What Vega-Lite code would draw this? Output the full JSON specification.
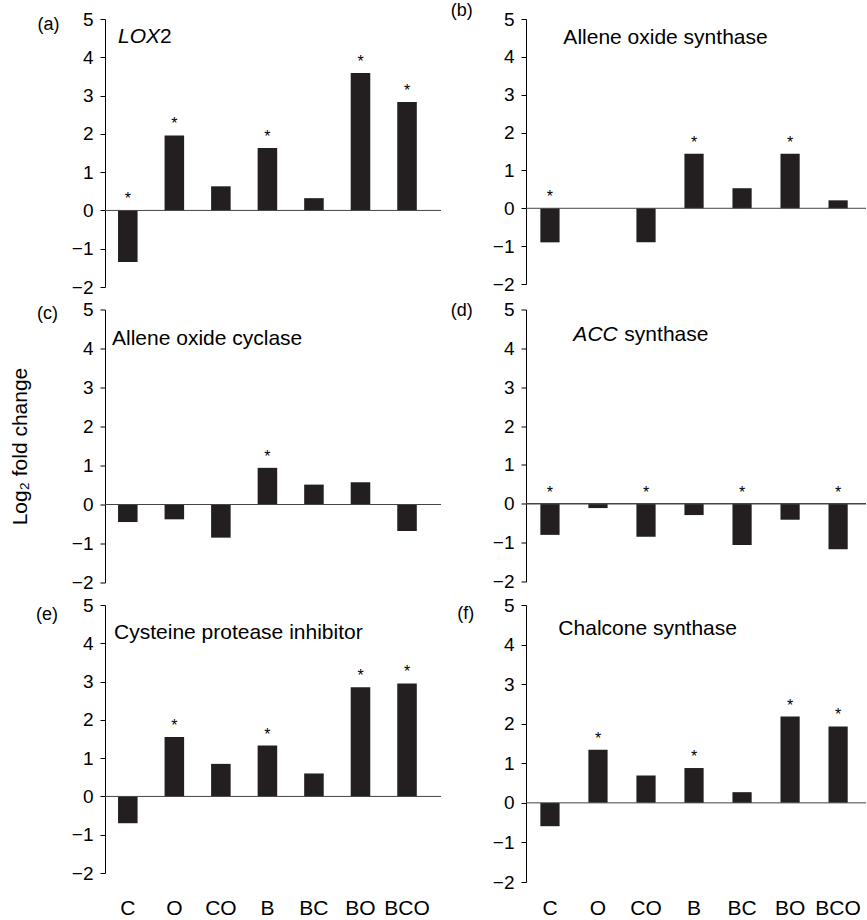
{
  "$schema": "https://vega.github.io/schema/vega-lite/v6.json",
  "padding": {"left": 9, "top": 2, "right": 0, "bottom": 0},
  "background": "white",
  "datasets": {
    "d": [
      {"panel": "a", "group": "C", "value": -1.35, "sig": true},
      {"panel": "a", "group": "O", "value": 1.96, "sig": true},
      {"panel": "a", "group": "CO", "value": 0.63, "sig": false},
      {"panel": "a", "group": "B", "value": 1.63, "sig": true},
      {"panel": "a", "group": "BC", "value": 0.32, "sig": false},
      {"panel": "a", "group": "BO", "value": 3.59, "sig": true},
      {"panel": "a", "group": "BCO", "value": 2.83, "sig": true},
      {"panel": "b", "group": "C", "value": -0.9, "sig": true},
      {"panel": "b", "group": "O", "value": 0, "sig": false},
      {"panel": "b", "group": "CO", "value": -0.9, "sig": false},
      {"panel": "b", "group": "B", "value": 1.44, "sig": true},
      {"panel": "b", "group": "BC", "value": 0.53, "sig": false},
      {"panel": "b", "group": "BO", "value": 1.44, "sig": true},
      {"panel": "b", "group": "BCO", "value": 0.21, "sig": false},
      {"panel": "c", "group": "C", "value": -0.45, "sig": false},
      {"panel": "c", "group": "O", "value": -0.38, "sig": false},
      {"panel": "c", "group": "CO", "value": -0.85, "sig": false},
      {"panel": "c", "group": "B", "value": 0.94, "sig": true},
      {"panel": "c", "group": "BC", "value": 0.51, "sig": false},
      {"panel": "c", "group": "BO", "value": 0.57, "sig": false},
      {"panel": "c", "group": "BCO", "value": -0.68, "sig": false},
      {"panel": "d", "group": "C", "value": -0.8, "sig": true},
      {"panel": "d", "group": "O", "value": -0.11, "sig": false},
      {"panel": "d", "group": "CO", "value": -0.85, "sig": true},
      {"panel": "d", "group": "B", "value": -0.29, "sig": false},
      {"panel": "d", "group": "BC", "value": -1.06, "sig": true},
      {"panel": "d", "group": "BO", "value": -0.41, "sig": false},
      {"panel": "d", "group": "BCO", "value": -1.17, "sig": true},
      {"panel": "e", "group": "C", "value": -0.7, "sig": false},
      {"panel": "e", "group": "O", "value": 1.55, "sig": true},
      {"panel": "e", "group": "CO", "value": 0.85, "sig": false},
      {"panel": "e", "group": "B", "value": 1.33, "sig": true},
      {"panel": "e", "group": "BC", "value": 0.6, "sig": false},
      {"panel": "e", "group": "BO", "value": 2.85, "sig": true},
      {"panel": "e", "group": "BCO", "value": 2.95, "sig": true},
      {"panel": "f", "group": "C", "value": -0.59, "sig": false},
      {"panel": "f", "group": "O", "value": 1.34, "sig": true},
      {"panel": "f", "group": "CO", "value": 0.69, "sig": false},
      {"panel": "f", "group": "B", "value": 0.88, "sig": true},
      {"panel": "f", "group": "BC", "value": 0.27, "sig": false},
      {"panel": "f", "group": "BO", "value": 2.18, "sig": true},
      {"panel": "f", "group": "BCO", "value": 1.93, "sig": true}
    ]
  },
  "columns": 2,
  "bounds": "flush",
  "spacing": {"row": 22.5, "column": 85},
  "concat": [
    {
      "width": 336, "height": 268,
      "layer": [
        {"data": {"name": "d"}, "transform": [{"filter": "datum.panel === 'a'"}],
         "mark": {"type": "bar", "color": "#231f20"},
         "encoding": {
           "x": {"field": "group", "type": "nominal", "scale": {"domain": ["C","O","CO","B","BC","BO","BCO"], "paddingInner": 0.58, "paddingOuter": 0.4, "align": 0.35}, "axis": null},
           "y": {"field": "value", "type": "quantitative", "scale": {"domain": [-2, 5], "nice": false, "zero": false}, "axis": {"values": [-2,-1,0,1,2,3,4,5], "title": null}}}},
        {"data": {"values": [{}]},
         "mark": {"type": "rule", "color": "#444", "strokeWidth": 1},
         "encoding": {"y": {"datum": 0, "type": "quantitative", "scale": {"domain": [-2, 5], "nice": false, "zero": false}, "axis": {"values": [-2,-1,0,1,2,3,4,5], "title": null}}}},
        {"data": {"name": "d"}, "transform": [{"filter": "datum.panel === 'a' && datum.sig && datum.value > 0"}],
         "mark": {"type": "text", "text": "*", "fontSize": 16, "baseline": "alphabetic", "dy": -6},
         "encoding": {
           "x": {"field": "group", "type": "nominal", "scale": {"domain": ["C","O","CO","B","BC","BO","BCO"], "paddingInner": 0.58, "paddingOuter": 0.4, "align": 0.35}, "axis": null},
           "y": {"field": "value", "type": "quantitative", "scale": {"domain": [-2, 5], "nice": false, "zero": false}, "axis": {"values": [-2,-1,0,1,2,3,4,5], "title": null}}}},
        {"data": {"name": "d"}, "transform": [{"filter": "datum.panel === 'a' && datum.sig && datum.value <= 0"}],
         "mark": {"type": "text", "text": "*", "fontSize": 16, "baseline": "alphabetic", "dy": -6},
         "encoding": {
           "x": {"field": "group", "type": "nominal", "scale": {"domain": ["C","O","CO","B","BC","BO","BCO"], "paddingInner": 0.58, "paddingOuter": 0.4, "align": 0.35}, "axis": null},
           "y": {"datum": 0, "type": "quantitative", "scale": {"domain": [-2, 5], "nice": false, "zero": false}, "axis": {"values": [-2,-1,0,1,2,3,4,5], "title": null}}}},
        {"data": {"values": [{}]},
         "mark": {"type": "text", "text": "LOX", "fontStyle": "italic", "fontSize": 21, "align": "left", "baseline": "middle", "dx": 0},
         "encoding": {
           "x": {"datum": "C", "type": "nominal", "bandPosition": 0, "scale": {"domain": ["C","O","CO","B","BC","BO","BCO"], "paddingInner": 0.58, "paddingOuter": 0.4, "align": 0.35}, "axis": null},
           "y": {"datum": 4.53, "type": "quantitative", "scale": {"domain": [-2, 5], "nice": false, "zero": false}, "axis": {"values": [-2,-1,0,1,2,3,4,5], "title": null}}}},
        {"data": {"values": [{}]},
         "mark": {"type": "text", "text": "2", "fontSize": 21, "align": "left", "baseline": "middle", "dx": 42},
         "encoding": {
           "x": {"datum": "C", "type": "nominal", "bandPosition": 0, "scale": {"domain": ["C","O","CO","B","BC","BO","BCO"], "paddingInner": 0.58, "paddingOuter": 0.4, "align": 0.35}, "axis": null},
           "y": {"datum": 4.53, "type": "quantitative", "scale": {"domain": [-2, 5], "nice": false, "zero": false}, "axis": {"values": [-2,-1,0,1,2,3,4,5], "title": null}}}},
        {"data": {"values": [{}]},
         "mark": {"type": "text", "text": "(a)", "fontSize": 18, "align": "left", "baseline": "middle", "dx": -80.5, "dy": 6},
         "encoding": {
           "x": {"datum": "C", "type": "nominal", "bandPosition": 0, "scale": {"domain": ["C","O","CO","B","BC","BO","BCO"], "paddingInner": 0.58, "paddingOuter": 0.4, "align": 0.35}, "axis": null},
           "y": {"datum": 5, "type": "quantitative", "scale": {"domain": [-2, 5], "nice": false, "zero": false}, "axis": {"values": [-2,-1,0,1,2,3,4,5], "title": null}}}}
      ]
    },
    {
      "width": 340, "height": 265,
      "layer": [
        {"data": {"name": "d"}, "transform": [{"filter": "datum.panel === 'b'"}],
         "mark": {"type": "bar", "color": "#231f20"},
         "encoding": {
           "x": {"field": "group", "type": "nominal", "scale": {"domain": ["C","O","CO","B","BC","BO","BCO"], "paddingInner": 0.6, "paddingOuter": 0.34, "align": 0.44}, "axis": null},
           "y": {"field": "value", "type": "quantitative", "scale": {"domain": [-2, 5], "nice": false, "zero": false}, "axis": {"values": [-2,-1,0,1,2,3,4,5], "title": null}}}},
        {"data": {"values": [{}]},
         "mark": {"type": "rule", "color": "#444", "strokeWidth": 1},
         "encoding": {"y": {"datum": 0, "type": "quantitative", "scale": {"domain": [-2, 5], "nice": false, "zero": false}, "axis": {"values": [-2,-1,0,1,2,3,4,5], "title": null}}}},
        {"data": {"name": "d"}, "transform": [{"filter": "datum.panel === 'b' && datum.sig && datum.value > 0"}],
         "mark": {"type": "text", "text": "*", "fontSize": 16, "baseline": "alphabetic", "dy": -6},
         "encoding": {
           "x": {"field": "group", "type": "nominal", "scale": {"domain": ["C","O","CO","B","BC","BO","BCO"], "paddingInner": 0.6, "paddingOuter": 0.34, "align": 0.44}, "axis": null},
           "y": {"field": "value", "type": "quantitative", "scale": {"domain": [-2, 5], "nice": false, "zero": false}, "axis": {"values": [-2,-1,0,1,2,3,4,5], "title": null}}}},
        {"data": {"name": "d"}, "transform": [{"filter": "datum.panel === 'b' && datum.sig && datum.value <= 0"}],
         "mark": {"type": "text", "text": "*", "fontSize": 16, "baseline": "alphabetic", "dy": -6},
         "encoding": {
           "x": {"field": "group", "type": "nominal", "scale": {"domain": ["C","O","CO","B","BC","BO","BCO"], "paddingInner": 0.6, "paddingOuter": 0.34, "align": 0.44}, "axis": null},
           "y": {"datum": 0, "type": "quantitative", "scale": {"domain": [-2, 5], "nice": false, "zero": false}, "axis": {"values": [-2,-1,0,1,2,3,4,5], "title": null}}}},
        {"data": {"values": [{}]},
         "mark": {"type": "text", "text": "Allene oxide synthase", "fontSize": 21, "align": "left", "baseline": "middle", "dx": 23},
         "encoding": {
           "x": {"datum": "C", "type": "nominal", "bandPosition": 0, "scale": {"domain": ["C","O","CO","B","BC","BO","BCO"], "paddingInner": 0.6, "paddingOuter": 0.34, "align": 0.44}, "axis": null},
           "y": {"datum": 4.5, "type": "quantitative", "scale": {"domain": [-2, 5], "nice": false, "zero": false}, "axis": {"values": [-2,-1,0,1,2,3,4,5], "title": null}}}},
        {"data": {"values": [{}]},
         "mark": {"type": "text", "text": "(b)", "fontSize": 18, "align": "left", "baseline": "middle", "dx": -89.7, "dy": -8},
         "encoding": {
           "x": {"datum": "C", "type": "nominal", "bandPosition": 0, "scale": {"domain": ["C","O","CO","B","BC","BO","BCO"], "paddingInner": 0.6, "paddingOuter": 0.34, "align": 0.44}, "axis": null},
           "y": {"datum": 5, "type": "quantitative", "scale": {"domain": [-2, 5], "nice": false, "zero": false}, "axis": {"values": [-2,-1,0,1,2,3,4,5], "title": null}}}}
      ]
    },
    {
      "width": 336, "height": 273,
      "layer": [
        {"data": {"name": "d"}, "transform": [{"filter": "datum.panel === 'c'"}],
         "mark": {"type": "bar", "color": "#231f20"},
         "encoding": {
           "x": {"field": "group", "type": "nominal", "scale": {"domain": ["C","O","CO","B","BC","BO","BCO"], "paddingInner": 0.58, "paddingOuter": 0.4, "align": 0.35}, "axis": null},
           "y": {"field": "value", "type": "quantitative", "scale": {"domain": [-2, 5], "nice": false, "zero": false}, "axis": {"values": [-2,-1,0,1,2,3,4,5], "title": "Log₂ fold change", "titlePadding": 41, "titleFontSize": 21, "titleFontWeight": "normal"}}}},
        {"data": {"values": [{}]},
         "mark": {"type": "rule", "color": "#444", "strokeWidth": 1},
         "encoding": {"y": {"datum": 0, "type": "quantitative", "scale": {"domain": [-2, 5], "nice": false, "zero": false}, "axis": {"values": [-2,-1,0,1,2,3,4,5], "title": "Log₂ fold change", "titlePadding": 41, "titleFontSize": 21, "titleFontWeight": "normal"}}}},
        {"data": {"name": "d"}, "transform": [{"filter": "datum.panel === 'c' && datum.sig && datum.value > 0"}],
         "mark": {"type": "text", "text": "*", "fontSize": 16, "baseline": "alphabetic", "dy": -6},
         "encoding": {
           "x": {"field": "group", "type": "nominal", "scale": {"domain": ["C","O","CO","B","BC","BO","BCO"], "paddingInner": 0.58, "paddingOuter": 0.4, "align": 0.35}, "axis": null},
           "y": {"field": "value", "type": "quantitative", "scale": {"domain": [-2, 5], "nice": false, "zero": false}, "axis": {"values": [-2,-1,0,1,2,3,4,5], "title": "Log₂ fold change", "titlePadding": 41, "titleFontSize": 21, "titleFontWeight": "normal"}}}},
        {"data": {"values": [{}]},
         "mark": {"type": "text", "text": "Allene oxide cyclase", "fontSize": 21, "align": "left", "baseline": "middle", "dx": -6},
         "encoding": {
           "x": {"datum": "C", "type": "nominal", "bandPosition": 0, "scale": {"domain": ["C","O","CO","B","BC","BO","BCO"], "paddingInner": 0.58, "paddingOuter": 0.4, "align": 0.35}, "axis": null},
           "y": {"datum": 4.25, "type": "quantitative", "scale": {"domain": [-2, 5], "nice": false, "zero": false}, "axis": {"values": [-2,-1,0,1,2,3,4,5], "title": "Log₂ fold change", "titlePadding": 41, "titleFontSize": 21, "titleFontWeight": "normal"}}}},
        {"data": {"values": [{}]},
         "mark": {"type": "text", "text": "(c)", "fontSize": 18, "align": "left", "baseline": "middle", "dx": -81, "dy": 4},
         "encoding": {
           "x": {"datum": "C", "type": "nominal", "bandPosition": 0, "scale": {"domain": ["C","O","CO","B","BC","BO","BCO"], "paddingInner": 0.58, "paddingOuter": 0.4, "align": 0.35}, "axis": null},
           "y": {"datum": 5, "type": "quantitative", "scale": {"domain": [-2, 5], "nice": false, "zero": false}, "axis": {"values": [-2,-1,0,1,2,3,4,5], "title": "Log₂ fold change", "titlePadding": 41, "titleFontSize": 21, "titleFontWeight": "normal"}}}}
      ]
    },
    {
      "width": 340, "height": 272,
      "layer": [
        {"data": {"name": "d"}, "transform": [{"filter": "datum.panel === 'd'"}],
         "mark": {"type": "bar", "color": "#231f20"},
         "encoding": {
           "x": {"field": "group", "type": "nominal", "scale": {"domain": ["C","O","CO","B","BC","BO","BCO"], "paddingInner": 0.6, "paddingOuter": 0.34, "align": 0.44}, "axis": null},
           "y": {"field": "value", "type": "quantitative", "scale": {"domain": [-2, 5], "nice": false, "zero": false}, "axis": {"values": [-2,-1,0,1,2,3,4,5], "title": null}}}},
        {"data": {"values": [{}]},
         "mark": {"type": "rule", "color": "#444", "strokeWidth": 1.5},
         "encoding": {"y": {"datum": 0, "type": "quantitative", "scale": {"domain": [-2, 5], "nice": false, "zero": false}, "axis": {"values": [-2,-1,0,1,2,3,4,5], "title": null}}}},
        {"data": {"name": "d"}, "transform": [{"filter": "datum.panel === 'd' && datum.sig && datum.value <= 0"}],
         "mark": {"type": "text", "text": "*", "fontSize": 16, "baseline": "alphabetic", "dy": -6},
         "encoding": {
           "x": {"field": "group", "type": "nominal", "scale": {"domain": ["C","O","CO","B","BC","BO","BCO"], "paddingInner": 0.6, "paddingOuter": 0.34, "align": 0.44}, "axis": null},
           "y": {"datum": 0, "type": "quantitative", "scale": {"domain": [-2, 5], "nice": false, "zero": false}, "axis": {"values": [-2,-1,0,1,2,3,4,5], "title": null}}}},
        {"data": {"values": [{}]},
         "mark": {"type": "text", "text": "ACC", "fontStyle": "italic", "fontSize": 21, "align": "left", "baseline": "middle", "dx": 33},
         "encoding": {
           "x": {"datum": "C", "type": "nominal", "bandPosition": 0, "scale": {"domain": ["C","O","CO","B","BC","BO","BCO"], "paddingInner": 0.6, "paddingOuter": 0.34, "align": 0.44}, "axis": null},
           "y": {"datum": 4.35, "type": "quantitative", "scale": {"domain": [-2, 5], "nice": false, "zero": false}, "axis": {"values": [-2,-1,0,1,2,3,4,5], "title": null}}}},
        {"data": {"values": [{}]},
         "mark": {"type": "text", "text": "synthase", "fontSize": 21, "align": "left", "baseline": "middle", "dx": 84},
         "encoding": {
           "x": {"datum": "C", "type": "nominal", "bandPosition": 0, "scale": {"domain": ["C","O","CO","B","BC","BO","BCO"], "paddingInner": 0.6, "paddingOuter": 0.34, "align": 0.44}, "axis": null},
           "y": {"datum": 4.35, "type": "quantitative", "scale": {"domain": [-2, 5], "nice": false, "zero": false}, "axis": {"values": [-2,-1,0,1,2,3,4,5], "title": null}}}},
        {"data": {"values": [{}]},
         "mark": {"type": "text", "text": "(d)", "fontSize": 18, "align": "left", "baseline": "middle", "dx": -89.7, "dy": 1.5},
         "encoding": {
           "x": {"datum": "C", "type": "nominal", "bandPosition": 0, "scale": {"domain": ["C","O","CO","B","BC","BO","BCO"], "paddingInner": 0.6, "paddingOuter": 0.34, "align": 0.44}, "axis": null},
           "y": {"datum": 5, "type": "quantitative", "scale": {"domain": [-2, 5], "nice": false, "zero": false}, "axis": {"values": [-2,-1,0,1,2,3,4,5], "title": null}}}}
      ]
    },
    {
      "width": 336, "height": 268,
      "layer": [
        {"data": {"name": "d"}, "transform": [{"filter": "datum.panel === 'e'"}],
         "mark": {"type": "bar", "color": "#231f20"},
         "encoding": {
           "x": {"field": "group", "type": "nominal", "scale": {"domain": ["C","O","CO","B","BC","BO","BCO"], "paddingInner": 0.58, "paddingOuter": 0.4, "align": 0.35}, "axis": {"title": null, "labelPadding": 24}},
           "y": {"field": "value", "type": "quantitative", "scale": {"domain": [-2, 5], "nice": false, "zero": false}, "axis": {"values": [-2,-1,0,1,2,3,4,5], "title": null}}}},
        {"data": {"values": [{}]},
         "mark": {"type": "rule", "color": "#444", "strokeWidth": 1},
         "encoding": {"y": {"datum": 0, "type": "quantitative", "scale": {"domain": [-2, 5], "nice": false, "zero": false}, "axis": {"values": [-2,-1,0,1,2,3,4,5], "title": null}}}},
        {"data": {"name": "d"}, "transform": [{"filter": "datum.panel === 'e' && datum.sig && datum.value > 0"}],
         "mark": {"type": "text", "text": "*", "fontSize": 16, "baseline": "alphabetic", "dy": -6},
         "encoding": {
           "x": {"field": "group", "type": "nominal", "scale": {"domain": ["C","O","CO","B","BC","BO","BCO"], "paddingInner": 0.58, "paddingOuter": 0.4, "align": 0.35}, "axis": {"title": null, "labelPadding": 24}},
           "y": {"field": "value", "type": "quantitative", "scale": {"domain": [-2, 5], "nice": false, "zero": false}, "axis": {"values": [-2,-1,0,1,2,3,4,5], "title": null}}}},
        {"data": {"values": [{}]},
         "mark": {"type": "text", "text": "Cysteine protease inhibitor", "fontSize": 21, "align": "left", "baseline": "middle", "dx": -4},
         "encoding": {
           "x": {"datum": "C", "type": "nominal", "bandPosition": 0, "scale": {"domain": ["C","O","CO","B","BC","BO","BCO"], "paddingInner": 0.58, "paddingOuter": 0.4, "align": 0.35}, "axis": {"title": null, "labelPadding": 24}},
           "y": {"datum": 4.27, "type": "quantitative", "scale": {"domain": [-2, 5], "nice": false, "zero": false}, "axis": {"values": [-2,-1,0,1,2,3,4,5], "title": null}}}},
        {"data": {"values": [{}]},
         "mark": {"type": "text", "text": "(e)", "fontSize": 18, "align": "left", "baseline": "middle", "dx": -82, "dy": 10},
         "encoding": {
           "x": {"datum": "C", "type": "nominal", "bandPosition": 0, "scale": {"domain": ["C","O","CO","B","BC","BO","BCO"], "paddingInner": 0.58, "paddingOuter": 0.4, "align": 0.35}, "axis": {"title": null, "labelPadding": 24}},
           "y": {"datum": 5, "type": "quantitative", "scale": {"domain": [-2, 5], "nice": false, "zero": false}, "axis": {"values": [-2,-1,0,1,2,3,4,5], "title": null}}}}
      ]
    },
    {
      "width": 340, "height": 277,
      "layer": [
        {"data": {"name": "d"}, "transform": [{"filter": "datum.panel === 'f'"}],
         "mark": {"type": "bar", "color": "#231f20"},
         "encoding": {
           "x": {"field": "group", "type": "nominal", "scale": {"domain": ["C","O","CO","B","BC","BO","BCO"], "paddingInner": 0.6, "paddingOuter": 0.34, "align": 0.44}, "axis": {"title": null, "labelPadding": 15}},
           "y": {"field": "value", "type": "quantitative", "scale": {"domain": [-2, 5], "nice": false, "zero": false}, "axis": {"values": [-2,-1,0,1,2,3,4,5], "title": null}}}},
        {"data": {"values": [{}]},
         "mark": {"type": "rule", "color": "#444", "strokeWidth": 1},
         "encoding": {"y": {"datum": 0, "type": "quantitative", "scale": {"domain": [-2, 5], "nice": false, "zero": false}, "axis": {"values": [-2,-1,0,1,2,3,4,5], "title": null}}}},
        {"data": {"name": "d"}, "transform": [{"filter": "datum.panel === 'f' && datum.sig && datum.value > 0"}],
         "mark": {"type": "text", "text": "*", "fontSize": 16, "baseline": "alphabetic", "dy": -6},
         "encoding": {
           "x": {"field": "group", "type": "nominal", "scale": {"domain": ["C","O","CO","B","BC","BO","BCO"], "paddingInner": 0.6, "paddingOuter": 0.34, "align": 0.44}, "axis": {"title": null, "labelPadding": 15}},
           "y": {"field": "value", "type": "quantitative", "scale": {"domain": [-2, 5], "nice": false, "zero": false}, "axis": {"values": [-2,-1,0,1,2,3,4,5], "title": null}}}},
        {"data": {"values": [{}]},
         "mark": {"type": "text", "text": "Chalcone synthase", "fontSize": 21, "align": "left", "baseline": "middle", "dx": 18},
         "encoding": {
           "x": {"datum": "C", "type": "nominal", "bandPosition": 0, "scale": {"domain": ["C","O","CO","B","BC","BO","BCO"], "paddingInner": 0.6, "paddingOuter": 0.34, "align": 0.44}, "axis": {"title": null, "labelPadding": 15}},
           "y": {"datum": 4.4, "type": "quantitative", "scale": {"domain": [-2, 5], "nice": false, "zero": false}, "axis": {"values": [-2,-1,0,1,2,3,4,5], "title": null}}}},
        {"data": {"values": [{}]},
         "mark": {"type": "text", "text": "(f)", "fontSize": 18, "align": "left", "baseline": "middle", "dx": -83, "dy": 9},
         "encoding": {
           "x": {"datum": "C", "type": "nominal", "bandPosition": 0, "scale": {"domain": ["C","O","CO","B","BC","BO","BCO"], "paddingInner": 0.6, "paddingOuter": 0.34, "align": 0.44}, "axis": {"title": null, "labelPadding": 15}},
           "y": {"datum": 5, "type": "quantitative", "scale": {"domain": [-2, 5], "nice": false, "zero": false}, "axis": {"values": [-2,-1,0,1,2,3,4,5], "title": null}}}}
      ]
    }
  ],
  "config": {
    "view": {"stroke": null},
    "font": "Liberation Sans",
    "axis": {"grid": false, "domainColor": "#000", "tickColor": "#000", "labelColor": "#000", "titleColor": "#000", "labelFont": "Liberation Sans", "titleFont": "Liberation Sans"},
    "axisY": {"tickSize": 5, "labelPadding": 7, "labelFontSize": 19, "domainWidth": 1, "tickWidth": 1},
    "axisX": {"domain": false, "ticks": false, "labelFontSize": 21, "labelAngle": 0},
    "text": {"font": "Liberation Sans", "color": "#000"}
  }
}
